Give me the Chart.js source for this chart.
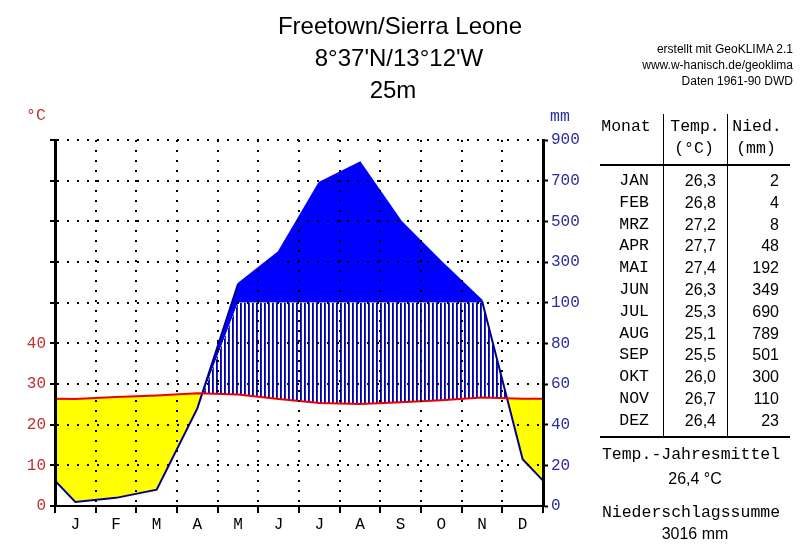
<!DOCTYPE html>
<html>
<head>
<meta charset="utf-8">
<script src="https://cdn.jsdelivr.net/npm/chart.js@4"></script>
<style>
body { margin: 0; background: #fff; }
#wrap { position: relative; width: 800px; height: 557px; overflow: hidden; font-family: 'Liberation Sans', Arial, sans-serif; }
#chart { position: absolute; left: 0; top: 0; }
.t { position: absolute; white-space: nowrap; line-height: 1; }
.mono { font-family: 'Liberation Mono', 'Courier New', monospace; }
.ln { position: absolute; background: #000; }
</style>
</head>
<body>
<div id="wrap">
<canvas id="chart" width="800" height="557"></canvas>
</div>
<script>
// climate data Freetown 1961-90
var months = ['J', 'F', 'M', 'A', 'M', 'J', 'J', 'A', 'S', 'O', 'N', 'D'];
var monthNames = ['JAN', 'FEB', 'MRZ', 'APR', 'MAI', 'JUN', 'JUL', 'AUG', 'SEP', 'OKT', 'NOV', 'DEZ'];
var temps = [26.3, 26.8, 27.2, 27.7, 27.4, 26.3, 25.3, 25.1, 25.5, 26.0, 26.7, 26.4];
var precip = [2, 4, 8, 48, 192, 349, 690, 789, 501, 300, 110, 23];
var leftTickLabels = ['0', '10', '20', '30', '40', '', '', '', '', ''];
var rightTickLabels = ['0', '20', '40', '60', '80', '100', '300', '500', '700', '900'];

var wrap = document.getElementById('wrap');

// 10 deg = 20 mm up to 100 mm, above that 10 deg = 200 mm
function mmToScale(mm) {
    return mm <= 100 ? mm / 2 : 50 + (mm - 100) / 20;
}

// the year wraps round: Dec before Jan, Jan after Dec
function cyclic(values) {
    var pts = values.map((v, i) => ({ x: i + 0.5, y: v }));
    pts.unshift({ x: -0.5, y: values[11] });
    pts.push({ x: 12.5, y: values[0] });
    return pts;
}

function addText(str, x, y, opts) {
    var d = document.createElement('div');
    d.className = 't' + (opts.mono ? ' mono' : '');
    d.textContent = str;
    d.style.fontSize = opts.size + 'px';
    d.style.color = opts.color || '#000';
    d.style.left = x + 'px';
    d.style.top = y + 'px';
    var tx = opts.align === 'right' ? '-100%' : opts.align === 'left' ? '0' : '-50%';
    d.style.transform = 'translate(' + tx + ', -50%)';
    wrap.appendChild(d);
}

function addLine(x, y, w, h) {
    var d = document.createElement('div');
    d.className = 'ln';
    d.style.left = x + 'px';
    d.style.top = y + 'px';
    d.style.width = w + 'px';
    d.style.height = h + 'px';
    wrap.appendChild(d);
}

// Title and credits
addText('Freetown/Sierra Leone', 400, 26, { size: 24 });
addText("8\u00b037'N/13\u00b012'W", 399, 58, { size: 24 });
addText('25m', 393, 90, { size: 24 });
addText('erstellt mit GeoKLIMA 2.1', 793, 49, { size: 12, align: 'right' });
addText('www.w-hanisch.de/geoklima', 793, 65, { size: 12, align: 'right' });
addText('Daten 1961-90 DWD', 793, 81, { size: 12, align: 'right' });

// axis units
addText('\u00b0C', 36, 116, { size: 16.5, mono: true, color: '#c03030' });
addText('mm', 560, 117, { size: 16.5, mono: true, color: '#2c2ca0' });

// Table
addText('Monat', 626, 127, { size: 16.5, mono: true });
addText('Temp.', 695, 127, { size: 16.5, mono: true });
addText('(\u00b0C)', 694, 149, { size: 16.5, mono: true });
addText('Nied.', 757, 127, { size: 16.5, mono: true });
addText('(mm)', 756, 149, { size: 16.5, mono: true });
addLine(663, 114, 1, 323);
addLine(727, 114, 1, 323);
addLine(600, 164, 190, 2);
addLine(600, 436, 190, 2);

monthNames.forEach(function (m, i) {
    var y = 181 + i * 21.8;
    addText(m, 649, y, { size: 16.5, mono: true, align: 'right' });
    addText(temps[i].toFixed(1).replace('.', ','), 716, y, { size: 16, align: 'right' });
    addText(String(precip[i]), 779, y, { size: 16, align: 'right' });
});

var meanTemp = temps.reduce((a, b) => a + b, 0) / temps.length;
var sumPrecip = precip.reduce((a, b) => a + b, 0);
addText('Temp.-Jahresmittel', 691, 455, { size: 16.5, mono: true });
addText(meanTemp.toFixed(1).replace('.', ',') + ' \u00b0C', 695, 479, { size: 16 });
addText('Niederschlagssumme', 691, 513, { size: 16.5, mono: true });
addText(sumPrecip + ' mm', 695, 534, { size: 16 });

// hatch for humid months
var pc = document.createElement('canvas');
pc.width = 4;
pc.height = 4;
var pctx = pc.getContext('2d');
pctx.fillStyle = '#ffffff';
pctx.fillRect(0, 0, 4, 4);
pctx.fillStyle = '#0000b0';
pctx.fillRect(0, 0, 1, 4);
pctx.fillStyle = '#2828b8';
pctx.fillRect(1, 0, 1, 4);
var hatch = pctx.createPattern(pc, 'repeat');

var monoFont = { family: "'Liberation Mono', 'Courier New', monospace", size: 16 };

function renderChart() {
    var ctx = document.getElementById('chart').getContext('2d');
    var scaled = precip.map(mmToScale);
    var capped = scaled.map(v => Math.min(v, 50));

    var myChart = new Chart(ctx, {
        type: 'line',
        data: {
            datasets: [
                {
                    label: 'Temp',
                    data: cyclic(temps),
                    borderColor: '#ee0000',
                    borderWidth: 2,
                    clip: 0,
                    fill: { target: 2, above: '#ffff00', below: hatch }
                },
                {
                    label: 'Nied',
                    data: cyclic(scaled),
                    borderColor: '#00008b',
                    borderWidth: 2,
                    clip: 0,
                    segment: {
                        borderColor: c => (c.p0.parsed.y > 50 && c.p1.parsed.y > 50) ? '#0000ff' : '#00008b'
                    },
                    fill: { target: 2, above: '#0000ff', below: 'rgba(0,0,0,0)' }
                },
                {
                    label: 'cap',
                    data: cyclic(capped),
                    borderColor: 'rgba(0,0,0,0)',
                    borderWidth: 0,
                    clip: 0,
                    fill: false
                }
            ]
        },
        options: {
            responsive: false,
            animation: false,
            devicePixelRatio: 1,
            layout: { padding: { top: 140, left: 0, right: 0, bottom: 0 } },
            elements: { point: { radius: 0 }, line: { tension: 0 } },
            plugins: {
                legend: { display: false },
                tooltip: { enabled: false },
                filler: { drawTime: 'beforeDatasetsDraw' }
            },
            scales: {
                x: {
                    type: 'linear', min: 0, max: 12, position: 'bottom', weight: 0,
                    ticks: { stepSize: 1, display: false },
                    grid: { color: '#000', lineWidth: 2, tickLength: 7, tickWidth: 2, tickColor: '#000', tickBorderDash: [], z: 1 },
                    border: { display: true, color: '#000', width: 2, dash: [2, 8], z: 2 },
                    afterFit: s => { s.height = 8; }
                },
                months: {
                    type: 'category', labels: months, offset: true, position: 'bottom', weight: 1,
                    grid: { display: false, drawTicks: false },
                    border: { display: false },
                    ticks: { color: '#000', font: monoFont, padding: 1, maxRotation: 0, autoSkip: false },
                    afterFit: s => { s.height = 43; }
                },
                y: {
                    min: 0, max: 90, position: 'left',
                    ticks: { stepSize: 10, callback: v => leftTickLabels[Math.round(v / 10)], color: '#c03030', font: monoFont, padding: 4 },
                    grid: { color: '#000', lineWidth: 2, tickLength: 5, tickWidth: 2, tickColor: '#000', tickBorderDash: [], z: 1 },
                    border: { color: '#000', width: 3, dash: [2, 8], z: 2 },
                    afterFit: s => { s.width = 55; }
                },
                y2: {
                    min: 0, max: 90, position: 'right',
                    ticks: { stepSize: 10, callback: v => rightTickLabels[Math.round(v / 10)], color: '#2c2ca0', font: monoFont, padding: 3 },
                    grid: { drawOnChartArea: false, tickLength: 5, tickWidth: 2, tickColor: '#000', z: 1 },
                    border: { color: '#000', width: 3, z: 2 },
                    afterFit: s => { s.width = 257; }
                }
            }
        }
    });
}

renderChart();
</script>
</body>
</html>
